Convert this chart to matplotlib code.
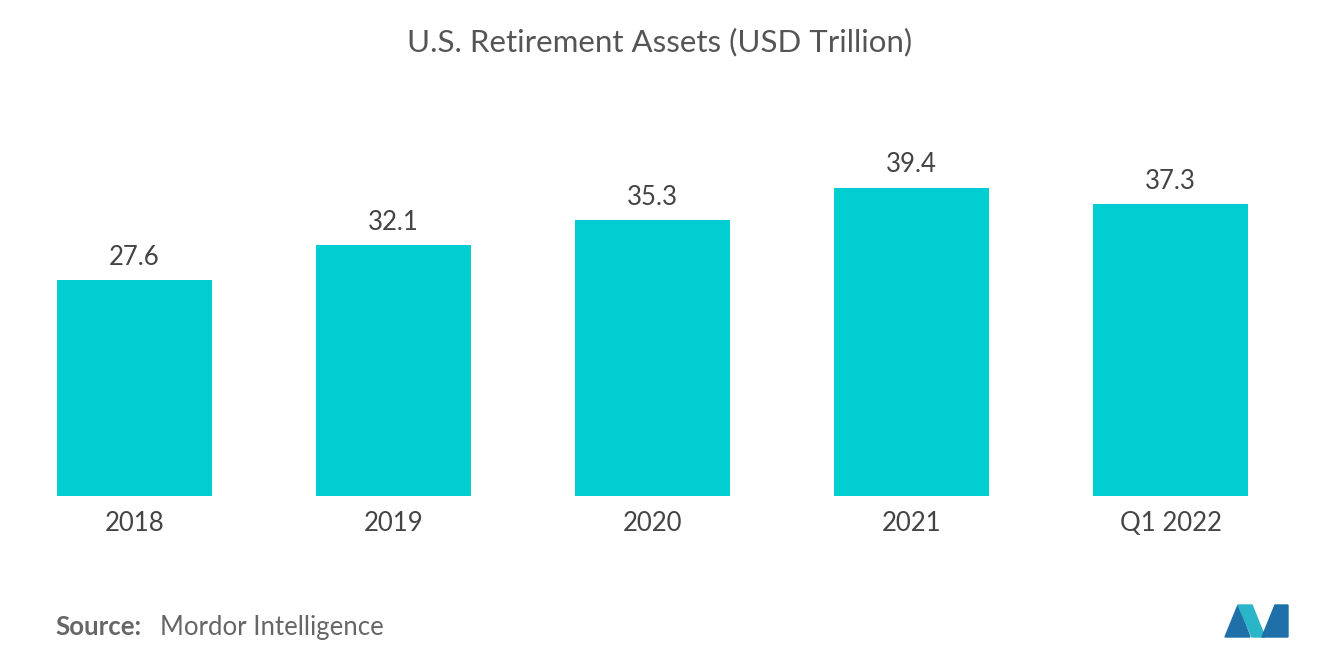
import matplotlib.pyplot as plt
from matplotlib.patches import Polygon

plt.rcParams['font.family'] = 'Lato'

# === DATA ===
categories = ['2018', '2019', '2020', '2021', 'Q1 2022']
assets = [27.6, 32.1, 35.3, 39.4, 37.3]

BAR_COLOR = '#00CED1'
TEXT_COLOR = '#555555'

fig = plt.figure(figsize=(13.2, 6.65), dpi=100)
ax = fig.add_axes([5 / 1320, 1 - 496 / 665, 1295 / 1320, 396 / 665])

x = range(len(categories))
bars = ax.bar(x, assets, width=0.6, color=BAR_COLOR)
for xi, v in zip(x, assets):
    ax.text(xi, v + 1.3, f'{v}', ha='center', va='bottom', fontsize=18.5, color='#444444')

ax.set_xlim(-0.5, 4.5)
ax.set_ylim(0, 50.6)
ax.set_xticks(list(x))
ax.set_xticklabels(categories, fontsize=18.5, color='#444444')
ax.tick_params(axis='x', length=0, pad=11)
ax.set_yticks([])
for s in ax.spines.values():
    s.set_visible(False)

fig.text(0.5, 1 - 42 / 665, 'U.S. Retirement Assets (USD Trillion)', ha='center', va='center',
         fontsize=22.5, color=TEXT_COLOR)
fig.text(55 / 1320, 1 - 627 / 665, 'Source:', ha='left', va='center', fontsize=18.5,
         color='#666666', fontweight='bold')
fig.text(160 / 1320, 1 - 627 / 665, 'Mordor Intelligence', ha='left', va='center', fontsize=18.5,
         color='#666666')

# simple logo
def px(pts):
    return [(a / 1320, 1 - b / 665) for a, b in pts]

fig.patches.append(Polygon(px([(1225, 637), (1238, 605), (1250, 637)]), closed=True,
                           transform=fig.transFigure, color='#1f6fa8'))
fig.patches.append(Polygon(px([(1238, 605), (1252, 605), (1265, 637), (1252, 637)]), closed=True,
                           transform=fig.transFigure, color='#2bb5c8'))
fig.patches.append(Polygon(px([(1262, 637), (1275, 605), (1288, 605), (1288, 637)]), closed=True,
                           transform=fig.transFigure, color='#1f6fa8'))

fig.savefig('out.png', dpi=100)
